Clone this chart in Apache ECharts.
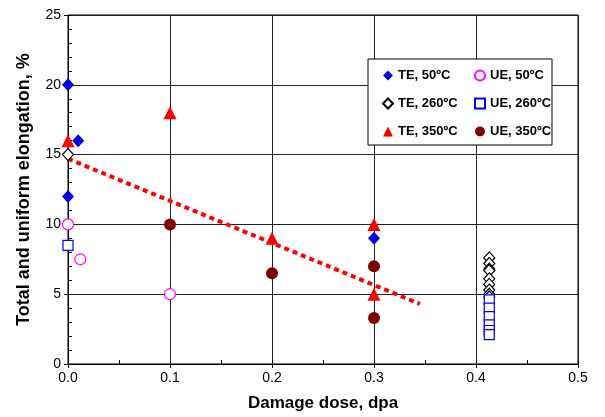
<!DOCTYPE html>
<html>
<head>
<meta charset="utf-8">
<script src="https://cdn.jsdelivr.net/npm/echarts@6/dist/echarts.min.js"></script>
<style>
  html, body { margin: 0; padding: 0; background: #fff; }
  #chart { width: 605px; height: 417px; }
</style>
</head>
<body>
<div id="chart"></div>
<script>
// data points: [dose dpa, elongation %]
const te50 = [[0, 20], [0.01, 16], [0, 12], [0.3, 9]];
const te260 = [[0, 15], [0.413, 7.6], [0.413, 7.2], [0.413, 6.8], [0.413, 6.7], [0.413, 6.1], [0.413, 5.7], [0.413, 5.3], [0.413, 5.0], [0.413, 4.8]];
const te350 = [[0, 16], [0.1, 18], [0.2, 9], [0.3, 10], [0.3, 5]];
const ue50 = [[0, 10], [0.012, 7.5], [0.1, 5]];
const ue260 = [[0, 8.5], [0.413, 4.6], [0.413, 4.0], [0.413, 3.4], [0.413, 2.8], [0.413, 2.4], [0.413, 2.1]];
const ue350 = [[0.1, 10], [0.2, 6.5], [0.3, 7], [0.3, 3.3]];
const trend = [[0, 14.7], [0.345, 4.3]];

const font = 'Arial, "Liberation Sans", sans-serif';
const chart = echarts.init(document.getElementById('chart'), null, { renderer: 'canvas' });

// хелпер для скаттера
const sc = (name, data, symbol, size, fill, stroke) => ({
  name, type: 'scatter', data, symbol, symbolSize: size,
  itemStyle: { color: fill, borderColor: stroke, borderWidth: fill === '#fff' ? 1.2 : 0, opacity: 1 },
  z: 5
});

const legendText = { fontFamily: font, fontSize: 13, fontWeight: 'bold', color: '#000' };

chart.setOption({
  animation: false,
  backgroundColor: '#fff',
  grid: { left: 68, right: 27, top: 15, bottom: 51, show: true, borderColor: '#000', borderWidth: 1 },
  xAxis: [{
    type: 'value', min: 0, max: 0.5, interval: 0.1,
    name: 'Damage dose, dpa', nameLocation: 'middle', nameGap: 31,
    nameTextStyle: { fontFamily: font, fontSize: 17, fontWeight: 'bold', color: '#000' },
    axisLine: { lineStyle: { color: '#000' } },
    axisTick: { length: 4, lineStyle: { color: '#000' } },
    axisLabel: { fontFamily: font, fontSize: 14, color: '#000', margin: 7, formatter: v => v.toFixed(1) },
    splitLine: { lineStyle: { color: '#222' } }
  }, {
    // minor ticks inside
    type: 'value', min: 0, max: 0.5, interval: 0.05, position: 'bottom',
    axisLine: { show: false }, axisLabel: { show: false }, splitLine: { show: false },
    axisTick: { inside: true, length: 4, lineStyle: { color: '#000' } }
  }],
  yAxis: [{
    type: 'value', min: 0, max: 25, interval: 5,
    name: 'Total and uniform elongation, %', nameLocation: 'middle', nameGap: 35,
    nameTextStyle: { fontFamily: font, fontSize: 18, fontWeight: 'bold', color: '#000' },
    axisLine: { lineStyle: { color: '#000' } },
    axisTick: { length: 4, lineStyle: { color: '#000' } },
    axisLabel: { fontFamily: font, fontSize: 14, color: '#000', margin: 7 },
    splitLine: { lineStyle: { color: '#222' } }
  }, {
    type: 'value', min: 0, max: 25, interval: 1, position: 'left',
    axisLine: { show: false }, axisLabel: { show: false }, splitLine: { show: false },
    axisTick: { inside: true, length: 4, lineStyle: { color: '#000' } }
  }],
  legend: [{
    orient: 'vertical', left: 377, top: 64, itemGap: 15, itemWidth: 10, itemHeight: 10,
    textStyle: legendText, selectedMode: false, z: 20,
    data: ['TE, 50ºC', 'TE, 260ºC', 'TE, 350ºC']
  }, {
    orient: 'vertical', left: 469, top: 64, itemGap: 15, itemWidth: 10, itemHeight: 10,
    textStyle: legendText, selectedMode: false, z: 20,
    data: ['UE, 50ºC', 'UE, 260ºC', 'UE, 350ºC']
  }],
  graphic: [{
    type: 'rect', shape: { x: 368, y: 59, width: 184, height: 86 },
    style: { fill: '#fff', stroke: '#000', lineWidth: 1 }, z: 10
  }],
  series: [
    {
      name: 'trend', type: 'line', data: trend, symbol: 'none', z: 3,
      lineStyle: { color: '#ff0000', width: 4, type: [5, 4] }
    },
    sc('TE, 50ºC', te50, 'diamond', [12, 13], '#0000e0', '#0000e0'),
    sc('TE, 260ºC', te260, 'diamond', [11, 12], '#fff', '#000'),
    sc('TE, 350ºC', te350, 'triangle', 13, '#ff0000', '#ff0000'),
    sc('UE, 50ºC', ue50, 'circle', 11, '#fff', '#ff00ff'),
    sc('UE, 260ºC', ue260, 'rect', 10, '#fff', '#0000ff'),
    sc('UE, 350ºC', ue350, 'circle', 12, '#800000', '#800000')
  ]
});
</script>
</body>
</html>
